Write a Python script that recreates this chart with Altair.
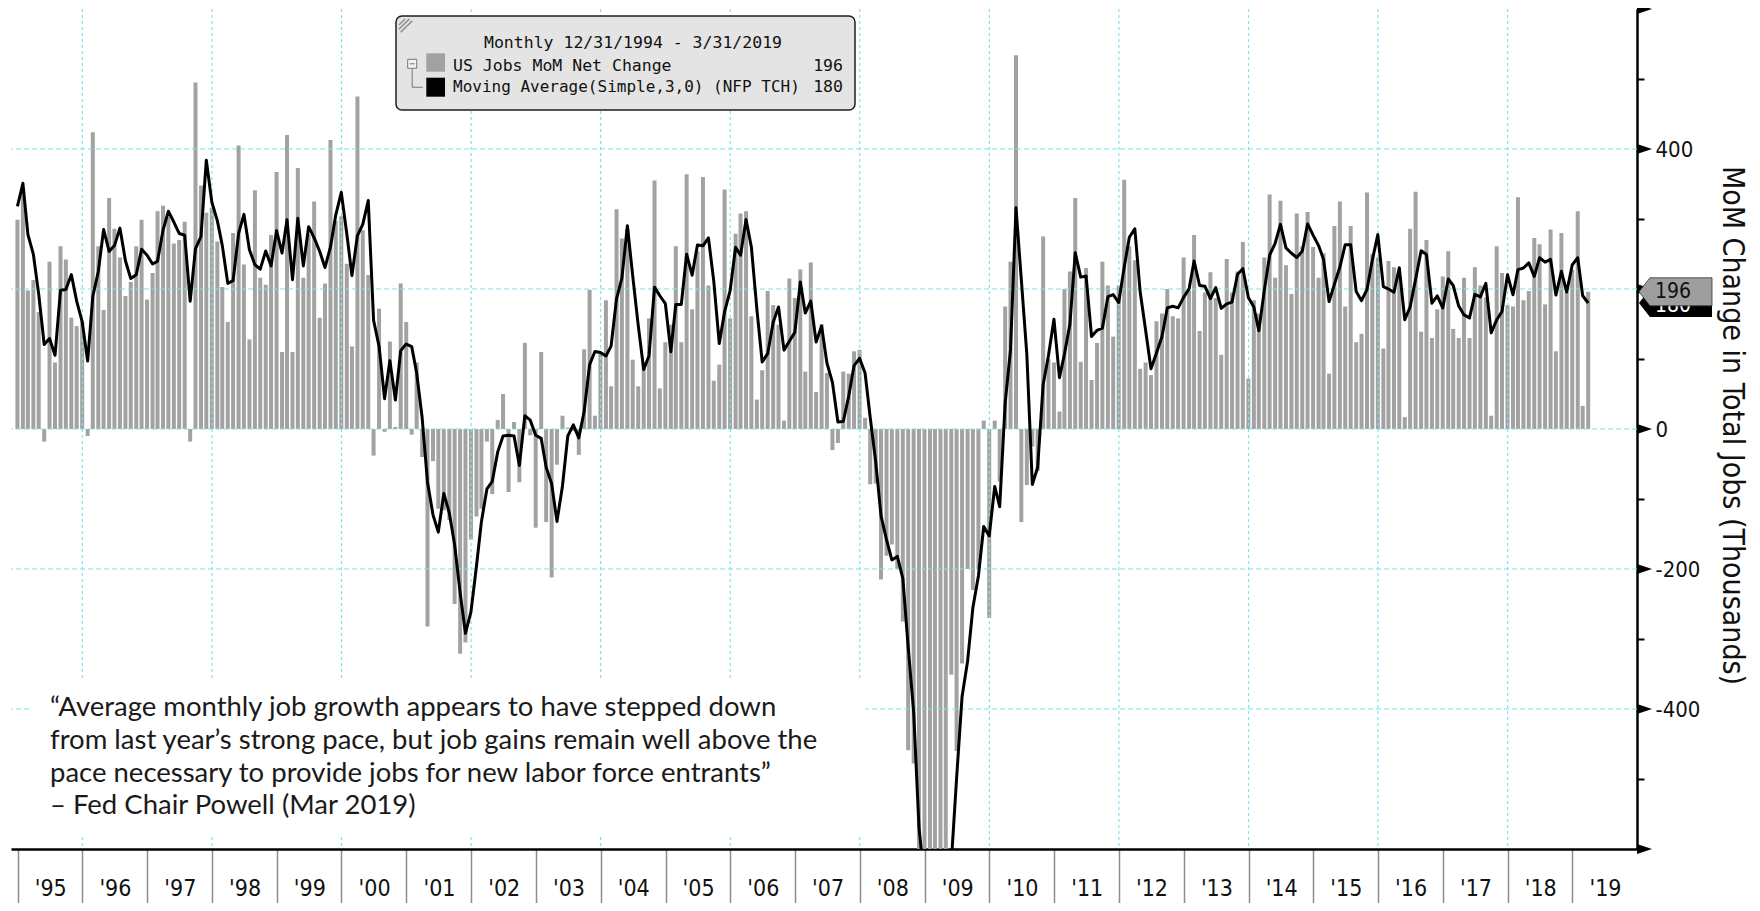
import calendar
import altair as alt
import pandas as pd

# ---------------- data (thousands, monthly change in US nonfarm payrolls) ----------------
pre_values = [238, 417]          # Oct-Nov 1994, only used for the 3-month average
dec_1994 = [299]
y1995 = [337, 198, 213, 167, -18, 239, 95, 261, 242, 159, 147, 154]
y1996 = [-10, 424, 261, 170, 330, 286, 245, 190, 210, 261, 299, 185]
y1997 = [223, 311, 319, 303, 265, 270, 296, -18, 495, 348, 309, 316]
y1998 = [268, 203, 153, 280, 405, 235, 128, 341, 216, 206, 277, 367]
y1999 = [110, 420, 110, 373, 216, 278, 325, 159, 208, 413, 297, 304]
y2000 = [236, 118, 475, 284, 220, -38, 172, -4, 125, 3, 208, 153]
y2001 = [-8, 95, -40, -282, -46, -114, -116, -130, -250, -321, -305, -158]
y2002 = [-125, -114, -18, -93, 13, 50, -90, 10, -76, 123, -9, -141]
y2003 = [110, -133, -212, -51, 19, 2, -3, -37, 114, 199, 19, 110]
y2004 = [184, 61, 314, 272, 285, 99, 61, 95, 158, 355, 58, 124]
y2005 = [149, 261, 124, 364, 171, 254, 360, 205, 69, 92, 342, 158]
y2006 = [279, 308, 311, 161, 42, 84, 197, 177, 149, 12, 215, 187]
y2007 = [228, 82, 238, 53, 150, 80, -30, -20, 82, 79, 111, 113]
y2008 = [16, -79, -78, -215, -181, -165, -200, -275, -459, -478, -769, -695]
y2009 = [-791, -703, -823, -686, -351, -460, -335, -200, -230, -200, 12, -270]
y2010 = [12, -75, 175, 239, 534, -133, -80, -25, -60, 275, 100, 95]
y2011 = [25, 200, 225, 330, 96, 230, 70, 123, 239, 205, 132, 205]
y2012 = [356, 261, 241, 86, 95, 77, 154, 165, 200, 161, 158, 245]
y2013 = [198, 277, 140, 195, 224, 187, 106, 243, 195, 225, 267, 72]
y2014 = [184, 165, 245, 335, 216, 326, 234, 193, 308, 261, 310, 260]
y2015 = [216, 251, 79, 290, 325, 175, 290, 124, 136, 338, 250, 245]
y2016 = [115, 240, 231, 220, 17, 286, 339, 139, 270, 130, 171, 218]
y2017 = [254, 143, 130, 216, 130, 231, 205, 188, 19, 261, 223, 177]
y2018 = [175, 331, 184, 197, 273, 264, 178, 285, 111, 280, 196, 227]
y2019 = [311, 33, 196]

year_lists = [y1995, y1996, y1997, y1998, y1999, y2000, y2001, y2002, y2003, y2004,
              y2005, y2006, y2007, y2008, y2009, y2010, y2011, y2012, y2013, y2014,
              y2015, y2016, y2017, y2018, y2019]

year_labels = list(range(1995, 2020))
grid_years = list(range(1996, 2019, 2))
y_grid = [-400, -200, 0, 200, 400]
y_ticks = list(range(-600, 601, 100))
y_major = [-600, -400, -200, 0, 200, 400, 600]

quote_lines = [
    "\u201cAverage monthly job growth appears to have stepped down",
    "from last year\u2019s strong pace, but job gains remain well above the",
    "pace necessary to provide jobs for new labor force entrants\u201d",
    "\u2013 Fed Chair Powell (Mar 2019)",
]
legend_title = "Monthly 12/31/1994 - 3/31/2019"
series_names = ["US Jobs MoM Net Change", "Moving Average(Simple,3,0) (NFP TCH)"]
axis_title = "MoM Change in Total Jobs (Thousands)"


def month_end(y, m):
    return f"{y}-{m:02d}-{calendar.monthrange(y, m)[1]:02d}T00:00:00"


rows = []
for (y, m), v in zip([(1994, 10), (1994, 11)], pre_values):
    rows.append({"date": month_end(y, m), "jobs": v, "shown": False})
rows.append({"date": month_end(1994, 12), "jobs": dec_1994[0], "shown": True})
for y, vals in zip(year_labels, year_lists):
    for m, v in enumerate(vals, start=1):
        rows.append({"date": month_end(y, m), "jobs": v, "shown": True})
df = pd.DataFrame(rows)

all_vals = [r["jobs"] for r in rows]
last_val = all_vals[-1]
last_ma = round(sum(all_vals[-3:]) / 3)

# ---------------- styling ----------------
W, H = 1626, 840
GRAY = "#a2a2a2"
CYAN = "#7fe3ea"
COND = "DejaVu Sans Condensed, Liberation Sans Narrow, DejaVu Sans, sans-serif"
MONO = "DejaVu Sans Mono"

xscale = alt.Scale(domain=[alt.DateTime(year=1994, month=12, date=23),
                           alt.DateTime(year=2019, month=12, date=3)])
yscale = alt.Scale(domain=[-600, 600], nice=False)

xaxis = alt.Axis(
    values=[alt.DateTime(year=y, month=1, date=1) for y in year_labels],
    labelExpr="\"'\" + timeFormat(datum.value, '%y')",
    tickSize=62, tickColor="#8c8c8c", tickWidth=1.5,
    domainColor="black", domainWidth=2.5,
    labelOffset=32.6, labelPadding=-23, labelBaseline="middle", labelAlign="center",
    labelFont=COND, labelFontSize=23, labelColor="#111",
    labelFlush=False, labelOverlap=False, grid=False, title=None,
)
yaxis = alt.Axis(
    orient="right", values=y_ticks,
    labelExpr="(datum.value % 200 == 0 && abs(datum.value) < 600) ? ((datum.value < 0 ? '-' : '') + abs(datum.value)) : ''",
    tickSize=7, tickColor="black", tickWidth=2,
    domainColor="black", domainWidth=2.5,
    labelPadding=11, labelFont=COND, labelFontSize=22, labelColor="#111",
    labelFlush=False, labelOverlap=False, grid=False,
    title=axis_title, titleAngle=90, titleX=94, titleY=416,
    titleAlign="center", titleBaseline="middle",
    titleFont=COND, titleFontSize=30, titleFontWeight="normal", titleColor="#111",
)

one = alt.Data(values=[{}])


def px_rect(x, y, x2, y2, **kw):
    return alt.Chart(one).mark_rect(**kw).encode(
        x=alt.value(x), x2=alt.value(x2), y=alt.value(y), y2=alt.value(y2))


def px_rule(x, y, x2, y2, **kw):
    return alt.Chart(one).mark_rule(**kw).encode(
        x=alt.value(x), x2=alt.value(x2), y=alt.value(y), y2=alt.value(y2))


def px_text(txt, x, y, **kw):
    return alt.Chart(one).mark_text(**kw).encode(
        x=alt.value(x), y=alt.value(y), text=alt.value(txt))


bars = alt.Chart(df).transform_filter("datum.shown").mark_bar(
    color=GRAY, size=4, clip=True
).encode(
    x=alt.X("date:T", scale=xscale, axis=xaxis),
    y=alt.Y("jobs:Q", scale=yscale, axis=yaxis),
    y2=alt.datum(0),
)

hgrid = alt.Chart(pd.DataFrame({"v": y_grid})).mark_rule(
    color=CYAN, strokeWidth=1.2, strokeDash=[5, 3]
).encode(y=alt.Y("v:Q", scale=yscale, axis=None))

vgrid = alt.Chart(pd.DataFrame({"d": [f"{y}-01-01T00:00:00" for y in grid_years]})).mark_rule(
    color=CYAN, strokeWidth=1.2, strokeDash=[3, 3]
).encode(x=alt.X("d:T", scale=xscale, axis=None))

quote_box = px_rect(18, 669, 854, 825, color="white")
quote = px_text(quote_lines, 39, 699, align="left", baseline="middle", font="Lato",
                fontSize=27.5, lineHeight=32.8, color="#1a1a1a")

ma_line = alt.Chart(df).transform_window(
    ma="mean(jobs)", frame=[-2, 0], sort=[alt.SortField("date")]
).transform_filter("datum.shown").mark_line(
    color="black", strokeWidth=3, clip=True, strokeJoin="round"
).encode(
    x=alt.X("date:T", scale=xscale, axis=None),
    y=alt.Y("ma:Q", scale=yscale, axis=None),
)

# legend box
leg = [
    px_rect(385, 7, 844, 101, fill="#e4e4e4", stroke="#1e1e1e", strokeWidth=1.5, cornerRadius=6),
    px_rule(388, 16, 394, 10, color="#8a8a8a", strokeWidth=1.5),
    px_rule(388, 20.3, 398.3, 10, color="#8a8a8a", strokeWidth=1.5),
    px_rule(389.7, 23.3, 401.3, 11.7, color="#8a8a8a", strokeWidth=1.5),
    px_text(legend_title, 622, 34, align="center", baseline="middle", font=MONO,
            fontSize=16.5, color="#111"),
    px_rect(396.7, 50.3, 405.7, 59.3, fill="#f2f2f2", stroke="#777", strokeWidth=1),
    px_rule(398.7, 54.8, 403.7, 54.8, color="#777", strokeWidth=1),
    px_rule(401.2, 59.3, 401.2, 78.3, color="#888", strokeWidth=1.2),
    px_rule(401.2, 78.3, 411.7, 78.3, color="#888", strokeWidth=1.2),
    px_rect(415.3, 44.3, 434, 62.7, color=GRAY),
    px_rect(415.3, 68.7, 434, 87.7, color="black"),
    px_text(series_names[0], 442, 57, align="left", baseline="middle", font=MONO,
            fontSize=16.5, color="#111"),
    px_text(series_names[1], 442, 78, align="left", baseline="middle", font=MONO,
            fontSize=16, color="#111"),
    px_text(str(last_val), 832, 57, align="right", baseline="middle", font=MONO,
            fontSize=16.5, color="#111"),
    px_text(str(last_ma), 832, 78, align="right", baseline="middle", font=MONO,
            fontSize=16.5, color="#111"),
]

# arrow-head major ticks on the right axis
TRI = "M -1 -0.667 L 1 0 L -1 0.667 Z"
tri = alt.Chart(pd.DataFrame({"t": y_major})).mark_point(
    shape=TRI, size=225, filled=True, color="black", opacity=1
).encode(x=alt.value(W + 7.5), y=alt.Y("t:Q", scale=yscale, axis=None))

# last-value flags on the right axis
FLAG = "M -1 0 L -0.7 -0.384 L 1 -0.384 L 1 0.384 L -0.7 0.384 Z"
flag_df_ma = pd.DataFrame({"v": [last_ma], "lab": [str(last_ma)]})
flag_df_jobs = pd.DataFrame({"v": [last_val], "lab": [str(last_val)]})
flag_ma = alt.Chart(flag_df_ma).mark_point(
    shape=FLAG, size=5329, filled=True, color="black", opacity=1
).encode(x=alt.value(1664.5), y=alt.Y("v:Q", scale=yscale, axis=None))
flag_ma_txt = alt.Chart(flag_df_ma).mark_text(
    align="left", baseline="middle", font=COND, fontSize=21, color="white", dy=3
).encode(x=alt.value(1644), y=alt.Y("v:Q", scale=yscale, axis=None), text="lab:N")
flag_jobs = alt.Chart(flag_df_jobs).mark_point(
    shape=FLAG, size=5329, filled=True, color="#9e9e9e", opacity=1,
    stroke="#333", strokeWidth=0.8
).encode(x=alt.value(1664.5), y=alt.Y("v:Q", scale=yscale, axis=None))
flag_jobs_txt = alt.Chart(flag_df_jobs).mark_text(
    align="left", baseline="middle", font=COND, fontSize=21, color="#111"
).encode(x=alt.value(1644), y=alt.Y("v:Q", scale=yscale, axis=None), text="lab:N")

chart = alt.layer(
    bars, hgrid, vgrid, quote_box, quote, ma_line, *leg, tri,
    flag_ma, flag_ma_txt, flag_jobs, flag_jobs_txt,
).resolve_axis(
    x="independent", y="independent"
).properties(
    width=W, height=H,
    autosize=alt.AutoSizeParams(type="none"),
    padding={"left": 3, "top": 1, "right": 112, "bottom": 54},
    background="white",
).configure_view(stroke=None)

chart.save("out.html", embed_options={"renderer": "svg", "actions": False})
